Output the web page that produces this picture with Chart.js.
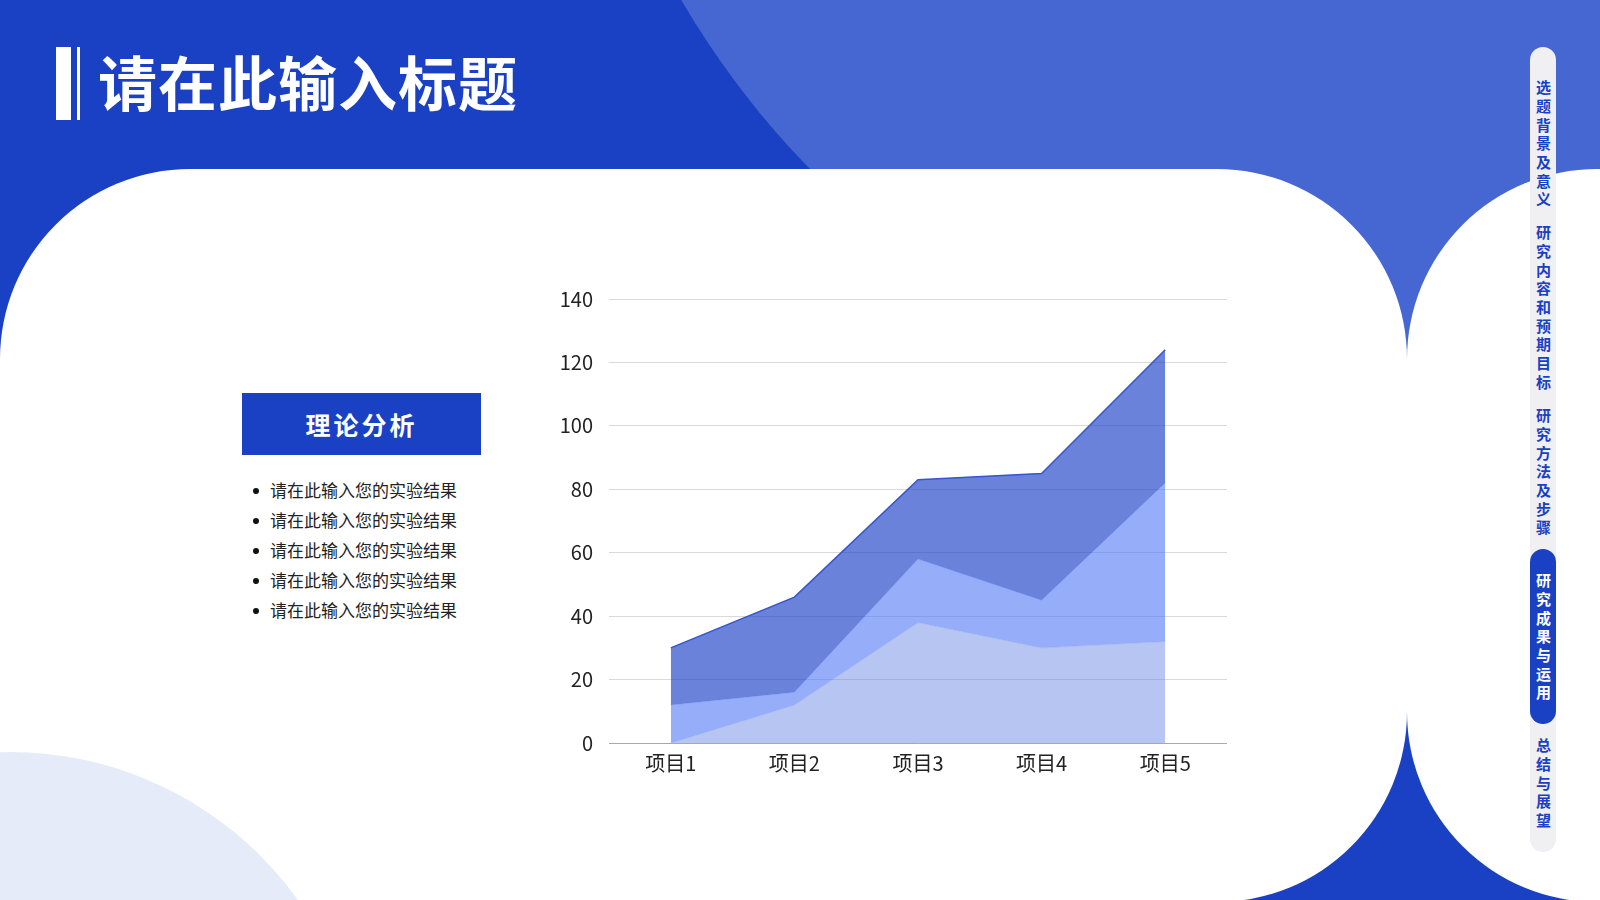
<!DOCTYPE html>
<html lang="zh-CN">
<head>
<meta charset="utf-8">
<title>请在此输入标题</title>
<script src="https://cdn.jsdelivr.net/npm/chart.js@4.4.1/dist/chart.umd.min.js"></script>
<style>
    html, body {
        margin: 0;
        padding: 0;
    }
    body {
        width: 1600px;
        height: 900px;
        overflow: hidden;
        position: relative;
        background: #1a40c4;
        font-family: "Noto Sans CJK SC", "Noto Sans", sans-serif;
    }
    .shape {
        position: absolute;
    }
    #sky {
        left: 565px;
        top: -1288px;
        width: 1714px;
        height: 1714px;
        border-radius: 50%;
        background: #4667d2;
    }
    #panel-main {
        left: 0;
        top: 169px;
        width: 1407px;
        height: 733px;
        border-radius: 190px 190px 190px 0;
        background: #fff;
    }
    #panel-side {
        left: 1407px;
        top: 169px;
        width: 420px;
        height: 733px;
        border-radius: 190px;
        background: #fff;
    }
    #blob {
        left: -344px;
        top: 752px;
        width: 708px;
        height: 708px;
        border-radius: 50%;
        background: #e6ebf9;
    }
    .bar-thick {
        position: absolute;
        left: 56px;
        top: 47px;
        width: 15px;
        height: 73px;
        background: #fff;
    }
    .bar-thin {
        position: absolute;
        left: 77px;
        top: 47px;
        width: 3px;
        height: 73px;
        background: #fff;
    }
    h1 {
        position: absolute;
        left: 98px;
        top: 49px;
        margin: 0;
        font-size: 59px;
        line-height: 64px;
        font-weight: 700;
        color: #fff;
        letter-spacing: 1px;
    }
    .tag {
        position: absolute;
        left: 242px;
        top: 393px;
        width: 239px;
        height: 62px;
        line-height: 62px;
        background: #1a40c4;
        color: #fff;
        font-size: 25px;
        font-weight: 700;
        text-align: center;
        letter-spacing: 3px;
    }
    .bullets {
        position: absolute;
        left: 253px;
        top: 475px;
        margin: 0;
        padding: 0;
        list-style: none;
    }
    .bullets li {
        height: 29.9px;
        line-height: 29.9px;
        font-size: 17px;
        letter-spacing: 0;
        color: #222;
    }
    .bullets li::before {
        content: "";
        display: inline-block;
        width: 6px;
        height: 6px;
        border-radius: 50%;
        background: #111;
        margin-right: 11px;
        vertical-align: middle;
        position: relative;
        top: -1px;
    }
    #chart-box {
        position: absolute;
        left: 520px;
        top: 271px;
        width: 707px;
        height: 512px;
    }
    .nav {
        position: absolute;
        left: 1530px;
        top: 47px;
        width: 26px;
        height: 805px;
        border-radius: 13px;
        background: #f0f0f2;
    }
    .nav-active {
        position: absolute;
        left: 1530px;
        top: 549px;
        width: 26px;
        height: 175px;
        border-radius: 13px;
        background: #1a40c4;
    }
    .nav-item {
        position: absolute;
        left: 1530px;
        width: 26px;
        writing-mode: vertical-rl;
        font-size: 15px;
        line-height: 26px;
        font-weight: 700;
        letter-spacing: 3.7px;
        color: #1a40c4;
    }
    .nav-item.on {
        color: #fff;
    }
</style>
</head>
<body>
<div class="shape" id="sky"></div>
<div class="shape" id="panel-main"></div>
<div class="shape" id="panel-side"></div>
<div class="shape" id="blob"></div>

<div class="bar-thick"></div>
<div class="bar-thin"></div>
<h1>请在此输入标题</h1>

<div class="tag">理论分析</div>
<ul class="bullets">
    <li>请在此输入您的实验结果</li>
    <li>请在此输入您的实验结果</li>
    <li>请在此输入您的实验结果</li>
    <li>请在此输入您的实验结果</li>
    <li>请在此输入您的实验结果</li>
</ul>

<div id="chart-box"><canvas id="chart"></canvas></div>

<div class="nav"></div>
<div class="nav-active"></div>
<div class="nav-item" style="top:80px">选题背景及意义</div>
<div class="nav-item" style="top:225px">研究内容和预期目标</div>
<div class="nav-item" style="top:408px">研究方法及步骤</div>
<div class="nav-item on" style="top:573px">研究成果与运用</div>
<div class="nav-item" style="top:738px">总结与展望</div>

<script>
// stacked area values, bottom layer first
const categories = ['项目1', '项目2', '项目3', '项目4', '项目5'];
const seriesLow = [0, 12, 38, 30, 32];
const seriesMid = [12, 4, 20, 15, 50];
const seriesHigh = [18, 30, 25, 40, 42];
const yTicks = [0, 20, 40, 60, 80, 100, 120, 140];

document.addEventListener('DOMContentLoaded', function() {
    const ctx = document.getElementById('chart').getContext('2d');
    const font = { family: '"Noto Sans CJK SC", "Noto Sans", sans-serif', size: 20 };

    new Chart(ctx, {
        type: 'line',
        data: {
            labels: categories,
            datasets: [
                {
                    data: seriesLow,
                    fill: 'origin',
                    backgroundColor: 'rgba(110, 140, 230, 0.5)',
                    borderColor: 'rgba(110, 140, 230, 0.2)',
                    borderWidth: 1
                },
                {
                    data: seriesMid,
                    fill: '-1',
                    backgroundColor: 'rgba(80, 120, 245, 0.6)',
                    borderColor: 'rgba(80, 120, 245, 0.3)',
                    borderWidth: 1
                },
                {
                    data: seriesHigh,
                    fill: '-1',
                    backgroundColor: 'rgba(26, 63, 196, 0.65)',
                    borderColor: '#3556cc',
                    borderWidth: 1.5
                }
            ]
        },
        options: {
            responsive: true,
            maintainAspectRatio: false,
            animation: false,
            layout: { padding: 0 },
            elements: {
                point: { radius: 0, hoverRadius: 0 },
                line: { tension: 0 }
            },
            plugins: {
                legend: { display: false },
                tooltip: { enabled: false }
            },
            scales: {
                x: {
                    offset: true,
                    grid: { display: false, drawTicks: false },
                    border: { display: true, color: '#a9a9a9', width: 1 },
                    ticks: { color: '#222', font: font, padding: 8 },
                    afterFit: function(scale) { scale.height = 40; }
                },
                y: {
                    stacked: true,
                    min: yTicks[0],
                    max: yTicks[yTicks.length - 1],
                    afterBuildTicks: function(scale) {
                        scale.ticks = yTicks.map(v => ({ value: v }));
                    },
                    grid: { color: '#d9d9d9', lineWidth: 1, drawTicks: false },
                    border: { display: false },
                    ticks: { color: '#222', font: font, padding: 16 },
                    afterFit: function(scale) { scale.width = 89; }
                }
            }
        }
    });
});
</script>
</body>
</html>
